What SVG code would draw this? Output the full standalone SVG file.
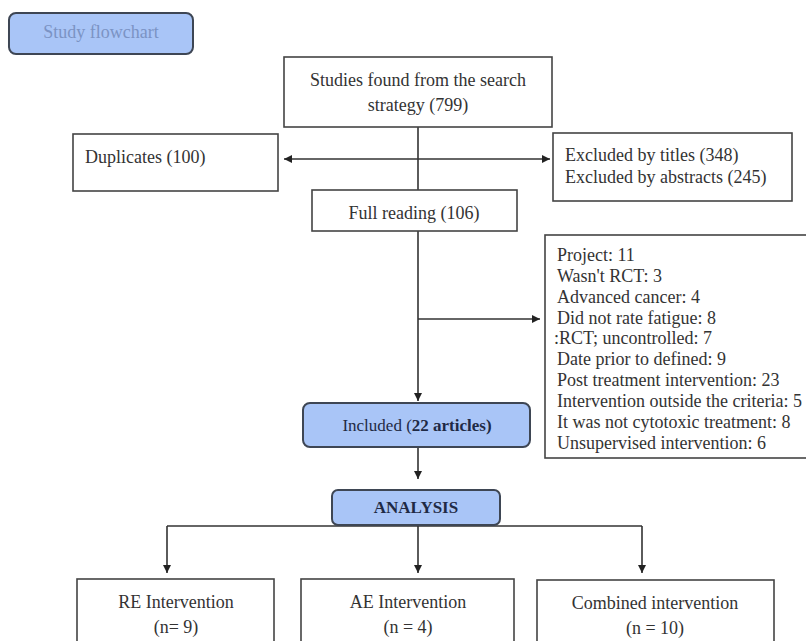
<svg xmlns="http://www.w3.org/2000/svg" width="806" height="641" viewBox="0 0 806 641">
<defs>
<style>
text{font-family:"Liberation Serif","Times New Roman",serif;font-size:18px;fill:#333}
.box{fill:#fff;stroke:#444;stroke-width:1.6}
.blue{fill:#a9c5f7;stroke:#3e4654;stroke-width:2}
.ln{fill:none;stroke:#333;stroke-width:1.6}
.c{text-anchor:middle}
.nv{fill:#1f2a45}
</style>
<marker id="ah" viewBox="0 0 10 10" refX="10" refY="5" markerWidth="8" markerHeight="8" markerUnits="userSpaceOnUse" orient="auto">
<path d="M0,0L10,5L0,10z" fill="#222"/>
</marker>
</defs>
<rect width="806" height="641" fill="#fff"/>
<g id="title">
<rect class="blue" x="9" y="13" width="184" height="41" rx="7"/>
<text class="c" x="101" y="38" style="fill:#7b93c4">Study flowchart</text>
</g>
<g id="connectors">
<path class="ln" d="M418,127V190"/>
<path class="ln" d="M418,159H284" marker-end="url(#ah)"/>
<path class="ln" d="M418,159H550" marker-end="url(#ah)"/>
<path class="ln" d="M418,231V401" marker-end="url(#ah)"/>
<path class="ln" d="M418,319H540" marker-end="url(#ah)"/>
<path class="ln" d="M418,447V479" marker-end="url(#ah)"/>
<path class="ln" d="M167,526H642"/>
<path class="ln" d="M167,526V573" marker-end="url(#ah)"/>
<path class="ln" d="M418,525V573" marker-end="url(#ah)"/>
<path class="ln" d="M642,526V573" marker-end="url(#ah)"/>
</g>
<g id="studies">
<rect class="box" x="284" y="57" width="268" height="70"/>
<text class="c" x="418" y="86">Studies found from the search</text>
<text class="c" x="418" y="111">strategy (799)</text>
</g>
<g id="duplicates">
<rect class="box" x="73" y="134" width="205" height="57"/>
<text x="85" y="163">Duplicates (100)</text>
</g>
<g id="excluded">
<rect class="box" x="553" y="133" width="239" height="68"/>
<text x="565" y="161">Excluded by titles (348)</text>
<text x="565" y="183">Excluded by abstracts (245)</text>
</g>
<g id="fullreading">
<rect class="box" x="312" y="190" width="205" height="41"/>
<text class="c" x="414" y="219">Full reading (106)</text>
</g>
<g id="reasons">
<rect class="box" x="545" y="235" width="270" height="223"/>
<text x="557" y="261">Project: 11</text>
<text x="557" y="282">Wasn't RCT: 3</text>
<text x="557" y="303">Advanced cancer: 4</text>
<text x="557" y="324">Did not rate fatigue: 8</text>
<text x="554" y="344">:RCT; uncontrolled: 7</text>
<text x="557" y="365">Date prior to defined: 9</text>
<text x="557" y="386">Post treatment intervention: 23</text>
<text x="557" y="407">Intervention outside the criteria: 5</text>
<text x="557" y="428">It was not cytotoxic treatment: 8</text>
<text x="557" y="449">Unsupervised intervention: 6</text>
</g>
<g id="included">
<rect class="blue" x="303" y="403" width="227" height="44" rx="7"/>
<text class="c nv" x="417" y="431" style="font-size:17px">Included (<tspan font-weight="bold" class="nv">22 articles)</tspan></text>
</g>
<g id="analysis">
<rect class="blue" x="332" y="490" width="168" height="35" rx="6"/>
<text class="c nv" x="416" y="513" font-weight="bold" style="font-size:17px">ANALYSIS</text>
</g>
<g id="re">
<rect class="box" x="77" y="579" width="197" height="80"/>
<text class="c" x="176" y="608">RE Intervention</text>
<text class="c" x="176" y="633">(n= 9)</text>
</g>
<g id="ae">
<rect class="box" x="301" y="579" width="213" height="80"/>
<text class="c" x="408" y="608">AE Intervention</text>
<text class="c" x="408" y="633">(n = 4)</text>
</g>
<g id="combined">
<rect class="box" x="537" y="580" width="237" height="80"/>
<text class="c" x="655" y="609">Combined intervention</text>
<text class="c" x="655" y="634">(n = 10)</text>
</g>
</svg>
